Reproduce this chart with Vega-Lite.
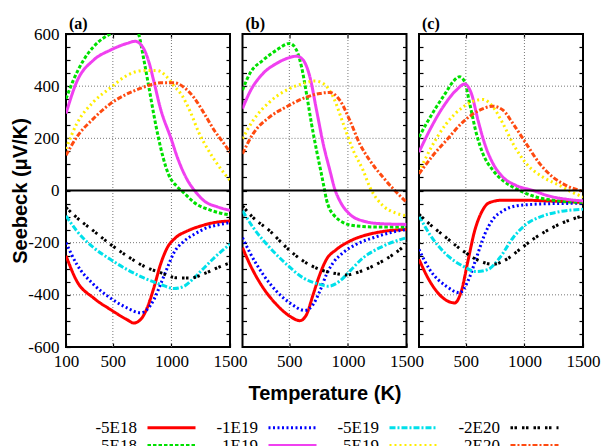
{
"$schema":"https://vega.github.io/schema/vega-lite/v6.json",
"padding":{"left":9,"top":15,"right":5,"bottom":0},
"bounds":"flush",
"spacing":12.5,
"datasets":{"d":[
{"p":"a","s":"-5E18","t":100,"v":-250},{"p":"a","s":"-5E18","t":192,"v":-347},{"p":"a","s":"-5E18","t":335,"v":-412},{"p":"a","s":"-5E18","t":478,"v":-456},{"p":"a","s":"-5E18","t":621,"v":-495},{"p":"a","s":"-5E18","t":678,"v":-508},{"p":"a","s":"-5E18","t":736,"v":-495},{"p":"a","s":"-5E18","t":793,"v":-450},{"p":"a","s":"-5E18","t":850,"v":-373},{"p":"a","s":"-5E18","t":907,"v":-283},{"p":"a","s":"-5E18","t":965,"v":-219},{"p":"a","s":"-5E18","t":1036,"v":-181},{"p":"a","s":"-5E18","t":1136,"v":-155},{"p":"a","s":"-5E18","t":1251,"v":-136},{"p":"a","s":"-5E18","t":1365,"v":-123},{"p":"a","s":"-5E18","t":1500,"v":-117},
{"p":"a","s":"-1E19","t":100,"v":-200},{"p":"a","s":"-1E19","t":192,"v":-283},{"p":"a","s":"-1E19","t":335,"v":-360},{"p":"a","s":"-1E19","t":478,"v":-412},{"p":"a","s":"-1E19","t":621,"v":-450},{"p":"a","s":"-1E19","t":736,"v":-469},{"p":"a","s":"-1E19","t":793,"v":-456},{"p":"a","s":"-1E19","t":850,"v":-418},{"p":"a","s":"-1E19","t":907,"v":-360},{"p":"a","s":"-1E19","t":965,"v":-296},{"p":"a","s":"-1E19","t":1022,"v":-238},{"p":"a","s":"-1E19","t":1108,"v":-194},{"p":"a","s":"-1E19","t":1194,"v":-168},{"p":"a","s":"-1E19","t":1308,"v":-142},{"p":"a","s":"-1E19","t":1394,"v":-132},{"p":"a","s":"-1E19","t":1500,"v":-123},
{"p":"a","s":"-5E19","t":100,"v":-97},{"p":"a","s":"-5E19","t":192,"v":-155},{"p":"a","s":"-5E19","t":335,"v":-219},{"p":"a","s":"-5E19","t":478,"v":-264},{"p":"a","s":"-5E19","t":621,"v":-303},{"p":"a","s":"-5E19","t":764,"v":-335},{"p":"a","s":"-5E19","t":907,"v":-360},{"p":"a","s":"-5E19","t":1022,"v":-376},{"p":"a","s":"-5E19","t":1108,"v":-367},{"p":"a","s":"-5E19","t":1194,"v":-335},{"p":"a","s":"-5E19","t":1280,"v":-296},{"p":"a","s":"-5E19","t":1365,"v":-258},{"p":"a","s":"-5E19","t":1500,"v":-206},
{"p":"a","s":"-2E20","t":100,"v":-65},{"p":"a","s":"-2E20","t":192,"v":-104},{"p":"a","s":"-2E20","t":335,"v":-155},{"p":"a","s":"-2E20","t":478,"v":-206},{"p":"a","s":"-2E20","t":621,"v":-251},{"p":"a","s":"-2E20","t":764,"v":-290},{"p":"a","s":"-2E20","t":907,"v":-315},{"p":"a","s":"-2E20","t":1051,"v":-335},{"p":"a","s":"-2E20","t":1165,"v":-335},{"p":"a","s":"-2E20","t":1280,"v":-319},{"p":"a","s":"-2E20","t":1394,"v":-296},{"p":"a","s":"-2E20","t":1500,"v":-277},
{"p":"a","s":"5E18","t":100,"v":352},{"p":"a","s":"5E18","t":163,"v":423},{"p":"a","s":"5E18","t":250,"v":500},{"p":"a","s":"5E18","t":335,"v":551},{"p":"a","s":"5E18","t":420,"v":585},{"p":"a","s":"5E18","t":478,"v":600},{"p":"a","s":"5E18","t":550,"v":620},{"p":"a","s":"5E18","t":620,"v":635},{"p":"a","s":"5E18","t":690,"v":625},{"p":"a","s":"5E18","t":720,"v":600},{"p":"a","s":"5E18","t":763,"v":505},{"p":"a","s":"5E18","t":806,"v":400},{"p":"a","s":"5E18","t":850,"v":290},{"p":"a","s":"5E18","t":890,"v":200},{"p":"a","s":"5E18","t":930,"v":125},{"p":"a","s":"5E18","t":977,"v":60},{"p":"a","s":"5E18","t":1049,"v":15},{"p":"a","s":"5E18","t":1106,"v":-9},{"p":"a","s":"5E18","t":1194,"v":-46},{"p":"a","s":"5E18","t":1337,"v":-76},{"p":"a","s":"5E18","t":1500,"v":-94},
{"p":"a","s":"1E19","t":100,"v":295},{"p":"a","s":"1E19","t":192,"v":417},{"p":"a","s":"1E19","t":335,"v":500},{"p":"a","s":"1E19","t":478,"v":538},{"p":"a","s":"1E19","t":621,"v":564},{"p":"a","s":"1E19","t":691,"v":572},{"p":"a","s":"1E19","t":763,"v":544},{"p":"a","s":"1E19","t":806,"v":495},{"p":"a","s":"1E19","t":849,"v":420},{"p":"a","s":"1E19","t":906,"v":315},{"p":"a","s":"1E19","t":1000,"v":195},{"p":"a","s":"1E19","t":1049,"v":129},{"p":"a","s":"1E19","t":1134,"v":42},{"p":"a","s":"1E19","t":1206,"v":-5},{"p":"a","s":"1E19","t":1280,"v":-40},{"p":"a","s":"1E19","t":1394,"v":-63},{"p":"a","s":"1E19","t":1500,"v":-76},
{"p":"a","s":"5E19","t":100,"v":160},{"p":"a","s":"5E19","t":192,"v":256},{"p":"a","s":"5E19","t":335,"v":340},{"p":"a","s":"5E19","t":478,"v":393},{"p":"a","s":"5E19","t":620,"v":441},{"p":"a","s":"5E19","t":763,"v":460},{"p":"a","s":"5E19","t":877,"v":460},{"p":"a","s":"5E19","t":949,"v":441},{"p":"a","s":"5E19","t":1020,"v":402},{"p":"a","s":"5E19","t":1091,"v":364},{"p":"a","s":"5E19","t":1163,"v":300},{"p":"a","s":"5E19","t":1234,"v":222},{"p":"a","s":"5E19","t":1308,"v":160},{"p":"a","s":"5E19","t":1394,"v":100},{"p":"a","s":"5E19","t":1500,"v":38},
{"p":"a","s":"2E20","t":100,"v":135},{"p":"a","s":"2E20","t":192,"v":205},{"p":"a","s":"2E20","t":335,"v":276},{"p":"a","s":"2E20","t":477,"v":332},{"p":"a","s":"2E20","t":620,"v":370},{"p":"a","s":"2E20","t":763,"v":396},{"p":"a","s":"2E20","t":906,"v":413},{"p":"a","s":"2E20","t":1020,"v":413},{"p":"a","s":"2E20","t":1106,"v":396},{"p":"a","s":"2E20","t":1191,"v":357},{"p":"a","s":"2E20","t":1280,"v":295},{"p":"a","s":"2E20","t":1365,"v":231},{"p":"a","s":"2E20","t":1450,"v":179},{"p":"a","s":"2E20","t":1500,"v":147},
{"p":"b","s":"-5E18","t":100,"v":-219},{"p":"b","s":"-5E18","t":163,"v":-283},{"p":"b","s":"-5E18","t":276,"v":-373},{"p":"b","s":"-5E18","t":390,"v":-437},{"p":"b","s":"-5E18","t":504,"v":-482},{"p":"b","s":"-5E18","t":590,"v":-499},{"p":"b","s":"-5E18","t":646,"v":-476},{"p":"b","s":"-5E18","t":703,"v":-399},{"p":"b","s":"-5E18","t":760,"v":-322},{"p":"b","s":"-5E18","t":817,"v":-264},{"p":"b","s":"-5E18","t":903,"v":-226},{"p":"b","s":"-5E18","t":1016,"v":-194},{"p":"b","s":"-5E18","t":1130,"v":-174},{"p":"b","s":"-5E18","t":1273,"v":-159},{"p":"b","s":"-5E18","t":1500,"v":-149},
{"p":"b","s":"-1E19","t":100,"v":-181},{"p":"b","s":"-1E19","t":163,"v":-238},{"p":"b","s":"-1E19","t":276,"v":-322},{"p":"b","s":"-1E19","t":390,"v":-386},{"p":"b","s":"-1E19","t":504,"v":-431},{"p":"b","s":"-1E19","t":632,"v":-460},{"p":"b","s":"-1E19","t":703,"v":-437},{"p":"b","s":"-1E19","t":760,"v":-386},{"p":"b","s":"-1E19","t":817,"v":-322},{"p":"b","s":"-1E19","t":874,"v":-277},{"p":"b","s":"-1E19","t":960,"v":-238},{"p":"b","s":"-1E19","t":1073,"v":-206},{"p":"b","s":"-1E19","t":1216,"v":-181},{"p":"b","s":"-1E19","t":1358,"v":-162},{"p":"b","s":"-1E19","t":1500,"v":-149},
{"p":"b","s":"-5E19","t":100,"v":-78},{"p":"b","s":"-5E19","t":191,"v":-142},{"p":"b","s":"-5E19","t":333,"v":-219},{"p":"b","s":"-5E19","t":476,"v":-283},{"p":"b","s":"-5E19","t":618,"v":-335},{"p":"b","s":"-5E19","t":760,"v":-360},{"p":"b","s":"-5E19","t":831,"v":-367},{"p":"b","s":"-5E19","t":931,"v":-347},{"p":"b","s":"-5E19","t":1016,"v":-309},{"p":"b","s":"-5E19","t":1130,"v":-258},{"p":"b","s":"-5E19","t":1273,"v":-219},{"p":"b","s":"-5E19","t":1500,"v":-181},
{"p":"b","s":"-2E20","t":100,"v":-59},{"p":"b","s":"-2E20","t":191,"v":-104},{"p":"b","s":"-2E20","t":333,"v":-155},{"p":"b","s":"-2E20","t":476,"v":-219},{"p":"b","s":"-2E20","t":618,"v":-270},{"p":"b","s":"-2E20","t":760,"v":-303},{"p":"b","s":"-2E20","t":903,"v":-319},{"p":"b","s":"-2E20","t":988,"v":-324},{"p":"b","s":"-2E20","t":1101,"v":-311},{"p":"b","s":"-2E20","t":1244,"v":-283},{"p":"b","s":"-2E20","t":1387,"v":-245},{"p":"b","s":"-2E20","t":1500,"v":-206},
{"p":"b","s":"5E18","t":100,"v":385},{"p":"b","s":"5E18","t":163,"v":449},{"p":"b","s":"5E18","t":276,"v":500},{"p":"b","s":"5E18","t":390,"v":538},{"p":"b","s":"5E18","t":504,"v":564},{"p":"b","s":"5E18","t":561,"v":538},{"p":"b","s":"5E18","t":604,"v":474},{"p":"b","s":"5E18","t":646,"v":372},{"p":"b","s":"5E18","t":689,"v":256},{"p":"b","s":"5E18","t":732,"v":154},{"p":"b","s":"5E18","t":775,"v":60},{"p":"b","s":"5E18","t":795,"v":15},{"p":"b","s":"5E18","t":817,"v":-35},{"p":"b","s":"5E18","t":845,"v":-72},{"p":"b","s":"5E18","t":874,"v":-91},{"p":"b","s":"5E18","t":960,"v":-123},{"p":"b","s":"5E18","t":1073,"v":-136},{"p":"b","s":"5E18","t":1244,"v":-140},{"p":"b","s":"5E18","t":1500,"v":-140},
{"p":"b","s":"1E19","t":100,"v":314},{"p":"b","s":"1E19","t":163,"v":378},{"p":"b","s":"1E19","t":276,"v":449},{"p":"b","s":"1E19","t":390,"v":487},{"p":"b","s":"1E19","t":504,"v":510},{"p":"b","s":"1E19","t":561,"v":515},{"p":"b","s":"1E19","t":618,"v":500},{"p":"b","s":"1E19","t":675,"v":436},{"p":"b","s":"1E19","t":732,"v":308},{"p":"b","s":"1E19","t":789,"v":179},{"p":"b","s":"1E19","t":846,"v":77},{"p":"b","s":"1E19","t":888,"v":5},{"p":"b","s":"1E19","t":931,"v":-40},{"p":"b","s":"1E19","t":1016,"v":-91},{"p":"b","s":"1E19","t":1130,"v":-117},{"p":"b","s":"1E19","t":1273,"v":-127},{"p":"b","s":"1E19","t":1500,"v":-130},
{"p":"b","s":"5E19","t":100,"v":199},{"p":"b","s":"5E19","t":191,"v":269},{"p":"b","s":"5E19","t":333,"v":340},{"p":"b","s":"5E19","t":476,"v":385},{"p":"b","s":"5E19","t":618,"v":410},{"p":"b","s":"5E19","t":718,"v":420},{"p":"b","s":"5E19","t":789,"v":410},{"p":"b","s":"5E19","t":874,"v":359},{"p":"b","s":"5E19","t":960,"v":256},{"p":"b","s":"5E19","t":1045,"v":154},{"p":"b","s":"5E19","t":1130,"v":77},{"p":"b","s":"5E19","t":1187,"v":13},{"p":"b","s":"5E19","t":1301,"v":-59},{"p":"b","s":"5E19","t":1400,"v":-85},{"p":"b","s":"5E19","t":1500,"v":-97},
{"p":"b","s":"2E20","t":100,"v":141},{"p":"b","s":"2E20","t":191,"v":218},{"p":"b","s":"2E20","t":333,"v":282},{"p":"b","s":"2E20","t":476,"v":321},{"p":"b","s":"2E20","t":618,"v":353},{"p":"b","s":"2E20","t":760,"v":372},{"p":"b","s":"2E20","t":846,"v":376},{"p":"b","s":"2E20","t":931,"v":346},{"p":"b","s":"2E20","t":1016,"v":269},{"p":"b","s":"2E20","t":1101,"v":179},{"p":"b","s":"2E20","t":1187,"v":115},{"p":"b","s":"2E20","t":1301,"v":50},{"p":"b","s":"2E20","t":1400,"v":0},{"p":"b","s":"2E20","t":1500,"v":-45},
{"p":"c","s":"-5E18","t":100,"v":-264},{"p":"c","s":"-5E18","t":191,"v":-347},{"p":"c","s":"-5E18","t":305,"v":-412},{"p":"c","s":"-5E18","t":405,"v":-431},{"p":"c","s":"-5E18","t":461,"v":-386},{"p":"c","s":"-5E18","t":518,"v":-270},{"p":"c","s":"-5E18","t":575,"v":-155},{"p":"c","s":"-5E18","t":632,"v":-85},{"p":"c","s":"-5E18","t":703,"v":-46},{"p":"c","s":"-5E18","t":817,"v":-37},{"p":"c","s":"-5E18","t":988,"v":-37},{"p":"c","s":"-5E18","t":1187,"v":-40},{"p":"c","s":"-5E18","t":1500,"v":-46},
{"p":"c","s":"-1E19","t":100,"v":-226},{"p":"c","s":"-1E19","t":191,"v":-303},{"p":"c","s":"-1E19","t":333,"v":-367},{"p":"c","s":"-1E19","t":447,"v":-392},{"p":"c","s":"-1E19","t":518,"v":-347},{"p":"c","s":"-1E19","t":590,"v":-258},{"p":"c","s":"-1E19","t":661,"v":-168},{"p":"c","s":"-1E19","t":732,"v":-110},{"p":"c","s":"-1E19","t":817,"v":-78},{"p":"c","s":"-1E19","t":931,"v":-59},{"p":"c","s":"-1E19","t":1073,"v":-53},{"p":"c","s":"-1E19","t":1273,"v":-50},{"p":"c","s":"-1E19","t":1500,"v":-49},
{"p":"c","s":"-5E19","t":100,"v":-97},{"p":"c","s":"-5E19","t":191,"v":-168},{"p":"c","s":"-5E19","t":333,"v":-245},{"p":"c","s":"-5E19","t":476,"v":-290},{"p":"c","s":"-5E19","t":590,"v":-311},{"p":"c","s":"-5E19","t":689,"v":-303},{"p":"c","s":"-5E19","t":789,"v":-258},{"p":"c","s":"-5E19","t":903,"v":-181},{"p":"c","s":"-5E19","t":1016,"v":-129},{"p":"c","s":"-5E19","t":1159,"v":-97},{"p":"c","s":"-5E19","t":1301,"v":-81},{"p":"c","s":"-5E19","t":1500,"v":-72},
{"p":"c","s":"-2E20","t":100,"v":-91},{"p":"c","s":"-2E20","t":191,"v":-129},{"p":"c","s":"-2E20","t":333,"v":-181},{"p":"c","s":"-2E20","t":476,"v":-232},{"p":"c","s":"-2E20","t":618,"v":-270},{"p":"c","s":"-2E20","t":732,"v":-283},{"p":"c","s":"-2E20","t":846,"v":-264},{"p":"c","s":"-2E20","t":960,"v":-226},{"p":"c","s":"-2E20","t":1073,"v":-187},{"p":"c","s":"-2E20","t":1187,"v":-155},{"p":"c","s":"-2E20","t":1330,"v":-123},{"p":"c","s":"-2E20","t":1500,"v":-97},
{"p":"c","s":"5E18","t":100,"v":205},{"p":"c","s":"5E18","t":163,"v":256},{"p":"c","s":"5E18","t":248,"v":320},{"p":"c","s":"5E18","t":333,"v":378},{"p":"c","s":"5E18","t":390,"v":417},{"p":"c","s":"5E18","t":447,"v":436},{"p":"c","s":"5E18","t":490,"v":417},{"p":"c","s":"5E18","t":533,"v":333},{"p":"c","s":"5E18","t":590,"v":218},{"p":"c","s":"5E18","t":646,"v":141},{"p":"c","s":"5E18","t":732,"v":77},{"p":"c","s":"5E18","t":817,"v":38},{"p":"c","s":"5E18","t":903,"v":13},{"p":"c","s":"5E18","t":988,"v":-6},{"p":"c","s":"5E18","t":1100,"v":-25},{"p":"c","s":"5E18","t":1300,"v":-40},{"p":"c","s":"5E18","t":1500,"v":-45},
{"p":"c","s":"1E19","t":100,"v":147},{"p":"c","s":"1E19","t":191,"v":231},{"p":"c","s":"1E19","t":305,"v":320},{"p":"c","s":"1E19","t":419,"v":385},{"p":"c","s":"1E19","t":490,"v":408},{"p":"c","s":"1E19","t":547,"v":372},{"p":"c","s":"1E19","t":604,"v":269},{"p":"c","s":"1E19","t":661,"v":179},{"p":"c","s":"1E19","t":732,"v":103},{"p":"c","s":"1E19","t":817,"v":51},{"p":"c","s":"1E19","t":931,"v":19},{"p":"c","s":"1E19","t":1073,"v":0},{"p":"c","s":"1E19","t":1200,"v":-20},{"p":"c","s":"1E19","t":1350,"v":-33},{"p":"c","s":"1E19","t":1500,"v":-40},
{"p":"c","s":"5E19","t":100,"v":71},{"p":"c","s":"5E19","t":191,"v":154},{"p":"c","s":"5E19","t":333,"v":256},{"p":"c","s":"5E19","t":476,"v":320},{"p":"c","s":"5E19","t":575,"v":344},{"p":"c","s":"5E19","t":646,"v":349},{"p":"c","s":"5E19","t":732,"v":320},{"p":"c","s":"5E19","t":817,"v":256},{"p":"c","s":"5E19","t":903,"v":179},{"p":"c","s":"5E19","t":1016,"v":103},{"p":"c","s":"5E19","t":1159,"v":51},{"p":"c","s":"5E19","t":1301,"v":19},{"p":"c","s":"5E19","t":1400,"v":-5},{"p":"c","s":"5E19","t":1500,"v":-25},
{"p":"c","s":"2E20","t":100,"v":64},{"p":"c","s":"2E20","t":220,"v":135},{"p":"c","s":"2E20","t":333,"v":192},{"p":"c","s":"2E20","t":476,"v":263},{"p":"c","s":"2E20","t":618,"v":308},{"p":"c","s":"2E20","t":732,"v":323},{"p":"c","s":"2E20","t":817,"v":308},{"p":"c","s":"2E20","t":903,"v":256},{"p":"c","s":"2E20","t":1016,"v":179},{"p":"c","s":"2E20","t":1130,"v":103},{"p":"c","s":"2E20","t":1244,"v":51},{"p":"c","s":"2E20","t":1358,"v":19},{"p":"c","s":"2E20","t":1500,"v":-3}
]},
"config":{
"view":{"stroke":"black","strokeWidth":2},
"axis":{"domain":false,"grid":false,"tickColor":"black","tickSize":-4,"tickWidth":1.2,"labelFont":"Liberation Serif","labelFontSize":17,"labelColor":"black","labelFlush":false,"titleFont":"Liberation Sans","titleFontSize":20,"titleFontWeight":"bold","titleColor":"black"},
"legend":{"labelFont":"Liberation Serif","labelFontSize":17,"labelColor":"black"},
"title":{"font":"Liberation Serif","fontSize":16,"fontWeight":"bold","color":"black","anchor":"start","frame":"group","offset":4}
},
"resolve":{"scale":{"color":"shared","strokeDash":"shared","strokeWidth":"shared"},"legend":{"color":"shared","strokeDash":"shared","strokeWidth":"shared"}},
"hconcat":[
{"width":164,"height":313,"title":{"text":"(a)","dx":3,"dy":11},
"resolve":{"axis":{"x":"independent","y":"independent"}},
"layer":[
{"data":{"values":[{"g":500},{"g":1000}]},"mark":{"type":"rule","color":"#777","strokeDash":[1,2],"strokeWidth":1},
"encoding":{"x":{"field":"g","type":"quantitative","scale":{"domain":[100,1500],"nice":false,"zero":false},"axis":{"orient":"top","values":[500,1000],"labels":false,"title":null}}}},
{"data":{"values":[{"g":-400},{"g":-200},{"g":200},{"g":400}]},"mark":{"type":"rule","color":"#777","strokeDash":[1,2],"strokeWidth":1},
"encoding":{"y":{"field":"g","type":"quantitative","scale":{"domain":[-600,600],"nice":false},"axis":{"orient":"right","values":[-550,-500,-450,-400,-350,-300,-250,-200,-150,-100,-50,0,50,100,150,200,250,300,350,400,450,500,550],"labels":false,"title":null}}}},
{"data":{"name":"d"},"transform":[{"filter":"datum.p==='a'"}],
"mark":{"type":"line","clip":true,"interpolate":"monotone","strokeCap":"butt"},
"encoding":{
"x":{"field":"t","type":"quantitative","scale":{"domain":[100,1500],"nice":false,"zero":false},"axis":{"orient":"bottom","values":[100,500,1000,1500],"labelExpr":"''+datum.value","labelPadding":10,"title":null}},
"y":{"field":"v","type":"quantitative","scale":{"domain":[-600,600],"nice":false},"axis":{"orient":"left","values":[-600,-550,-500,-450,-400,-350,-300,-250,-200,-150,-100,-50,0,50,100,150,200,250,300,350,400,450,500,550,600],"labelExpr":"datum.value % 200 == 0 ? ''+datum.value : ''","labelPadding":11,"title":"Seebeck (μV/K)","titlePadding":-3}},
"color":{"field":"s","type":"nominal","scale":{"domain":["-5E18","-1E19","-5E19","-2E20","5E18","1E19","5E19","2E20"],"range":["#ff0000","#0000ff","#00e0ea","#000000","#00e000","#f040f0","#ffee00","#ff4a10"]},
"legend":{"orient":"none","legendX":97,"legendY":385,"columns":4,"direction":"horizontal","title":null,"symbolType":"M-3.43,0H3.43","symbolSize":196,"labelFont":"Liberation Serif","labelFontSize":17,"labelColor":"black","labelAlign":"right","labelOffset":-43,"columnPadding":14,"rowPadding":0,"labelLimit":0}},
"strokeDash":{"field":"s","type":"nominal","scale":{"domain":["-5E18","-1E19","-5E19","-2E20","5E18","1E19","5E19","2E20"],"range":[[1,0],[2,2.5],[6,2,2,2],[2.5,1.5,2.5,5],[3.5,2],[1,0],[2,3],[5,2,2,2]]}},
"strokeWidth":{"field":"s","type":"nominal","scale":{"domain":["-5E18","-1E19","-5E19","-2E20","5E18","1E19","5E19","2E20"],"range":[3,3,3.5,3,4,3,3,3]}}
}},
{"data":{"values":[{"z":0}]},"mark":{"type":"rule","color":"black","strokeWidth":2},"encoding":{"y":{"field":"z","type":"quantitative","axis":null}}}
]},
{"width":164,"height":313,"title":{"text":"(b)","dx":3,"dy":3},
"resolve":{"axis":{"x":"independent","y":"independent"}},
"layer":[
{"data":{"values":[{"g":500},{"g":1000}]},"mark":{"type":"rule","color":"#777","strokeDash":[1,2],"strokeWidth":1},
"encoding":{"x":{"field":"g","type":"quantitative","scale":{"domain":[100,1500],"nice":false,"zero":false},"axis":{"orient":"top","values":[500,1000],"labels":false,"title":null}}}},
{"data":{"values":[{"g":-400},{"g":-200},{"g":200},{"g":400}]},"mark":{"type":"rule","color":"#777","strokeDash":[1,2],"strokeWidth":1},
"encoding":{"y":{"field":"g","type":"quantitative","scale":{"domain":[-600,600],"nice":false},"axis":{"orient":"right","values":[-550,-500,-450,-400,-350,-300,-250,-200,-150,-100,-50,0,50,100,150,200,250,300,350,400,450,500,550],"labels":false,"title":null}}}},
{"data":{"name":"d"},"transform":[{"filter":"datum.p==='b'"}],
"mark":{"type":"line","clip":true,"interpolate":"monotone","strokeCap":"butt"},
"encoding":{
"x":{"field":"t","type":"quantitative","scale":{"domain":[100,1500],"nice":false,"zero":false},"axis":{"orient":"bottom","values":[500,1000,1500],"labelExpr":"''+datum.value","labelPadding":10,"title":"Temperature (K)","titlePadding":14}},
"y":{"field":"v","type":"quantitative","scale":{"domain":[-600,600],"nice":false},"axis":{"orient":"left","values":[-550,-500,-450,-400,-350,-300,-250,-200,-150,-100,-50,0,50,100,150,200,250,300,350,400,450,500,550],"labels":false,"title":null}},
"color":{"field":"s","type":"nominal","scale":{"domain":["-5E18","-1E19","-5E19","-2E20","5E18","1E19","5E19","2E20"],"range":["#ff0000","#0000ff","#00e0ea","#000000","#00e000","#f040f0","#ffee00","#ff4a10"]},
"legend":{"orient":"none","legendX":97,"legendY":385,"columns":4,"direction":"horizontal","title":null,"symbolType":"M-3.43,0H3.43","symbolSize":196,"labelFont":"Liberation Serif","labelFontSize":17,"labelColor":"black","labelAlign":"right","labelOffset":-43,"columnPadding":14,"rowPadding":0,"labelLimit":0}},
"strokeDash":{"field":"s","type":"nominal","scale":{"domain":["-5E18","-1E19","-5E19","-2E20","5E18","1E19","5E19","2E20"],"range":[[1,0],[2,2.5],[6,2,2,2],[2.5,1.5,2.5,5],[3.5,2],[1,0],[2,3],[5,2,2,2]]}},
"strokeWidth":{"field":"s","type":"nominal","scale":{"domain":["-5E18","-1E19","-5E19","-2E20","5E18","1E19","5E19","2E20"],"range":[3,3,3.5,3,4,3,3,3]}}
}},
{"data":{"values":[{"z":0}]},"mark":{"type":"rule","color":"black","strokeWidth":2},"encoding":{"y":{"field":"z","type":"quantitative","axis":null}}}
]},
{"width":164,"height":313,"title":{"text":"(c)","dx":3,"dy":3},
"resolve":{"axis":{"x":"independent","y":"independent"}},
"layer":[
{"data":{"values":[{"g":500},{"g":1000}]},"mark":{"type":"rule","color":"#777","strokeDash":[1,2],"strokeWidth":1},
"encoding":{"x":{"field":"g","type":"quantitative","scale":{"domain":[100,1500],"nice":false,"zero":false},"axis":{"orient":"top","values":[500,1000],"labels":false,"title":null}}}},
{"data":{"values":[{"g":-400},{"g":-200},{"g":200},{"g":400}]},"mark":{"type":"rule","color":"#777","strokeDash":[1,2],"strokeWidth":1},
"encoding":{"y":{"field":"g","type":"quantitative","scale":{"domain":[-600,600],"nice":false},"axis":{"orient":"right","values":[-550,-500,-450,-400,-350,-300,-250,-200,-150,-100,-50,0,50,100,150,200,250,300,350,400,450,500,550],"labels":false,"title":null}}}},
{"data":{"name":"d"},"transform":[{"filter":"datum.p==='c'"}],
"mark":{"type":"line","clip":true,"interpolate":"monotone","strokeCap":"butt"},
"encoding":{
"x":{"field":"t","type":"quantitative","scale":{"domain":[100,1500],"nice":false,"zero":false},"axis":{"orient":"bottom","values":[500,1000,1500],"labelExpr":"''+datum.value","labelPadding":10,"title":null}},
"y":{"field":"v","type":"quantitative","scale":{"domain":[-600,600],"nice":false},"axis":{"orient":"left","values":[-550,-500,-450,-400,-350,-300,-250,-200,-150,-100,-50,0,50,100,150,200,250,300,350,400,450,500,550],"labels":false,"title":null}},
"color":{"field":"s","type":"nominal","scale":{"domain":["-5E18","-1E19","-5E19","-2E20","5E18","1E19","5E19","2E20"],"range":["#ff0000","#0000ff","#00e0ea","#000000","#00e000","#f040f0","#ffee00","#ff4a10"]},
"legend":{"orient":"none","legendX":97,"legendY":385,"columns":4,"direction":"horizontal","title":null,"symbolType":"M-3.43,0H3.43","symbolSize":196,"labelFont":"Liberation Serif","labelFontSize":17,"labelColor":"black","labelAlign":"right","labelOffset":-43,"columnPadding":14,"rowPadding":0,"labelLimit":0}},
"strokeDash":{"field":"s","type":"nominal","scale":{"domain":["-5E18","-1E19","-5E19","-2E20","5E18","1E19","5E19","2E20"],"range":[[1,0],[2,2.5],[6,2,2,2],[2.5,1.5,2.5,5],[3.5,2],[1,0],[2,3],[5,2,2,2]]}},
"strokeWidth":{"field":"s","type":"nominal","scale":{"domain":["-5E18","-1E19","-5E19","-2E20","5E18","1E19","5E19","2E20"],"range":[3,3,3.5,3,4,3,3,3]}}
}},
{"data":{"values":[{"z":0}]},"mark":{"type":"rule","color":"black","strokeWidth":2},"encoding":{"y":{"field":"z","type":"quantitative","axis":null}}}
]}
]
}
